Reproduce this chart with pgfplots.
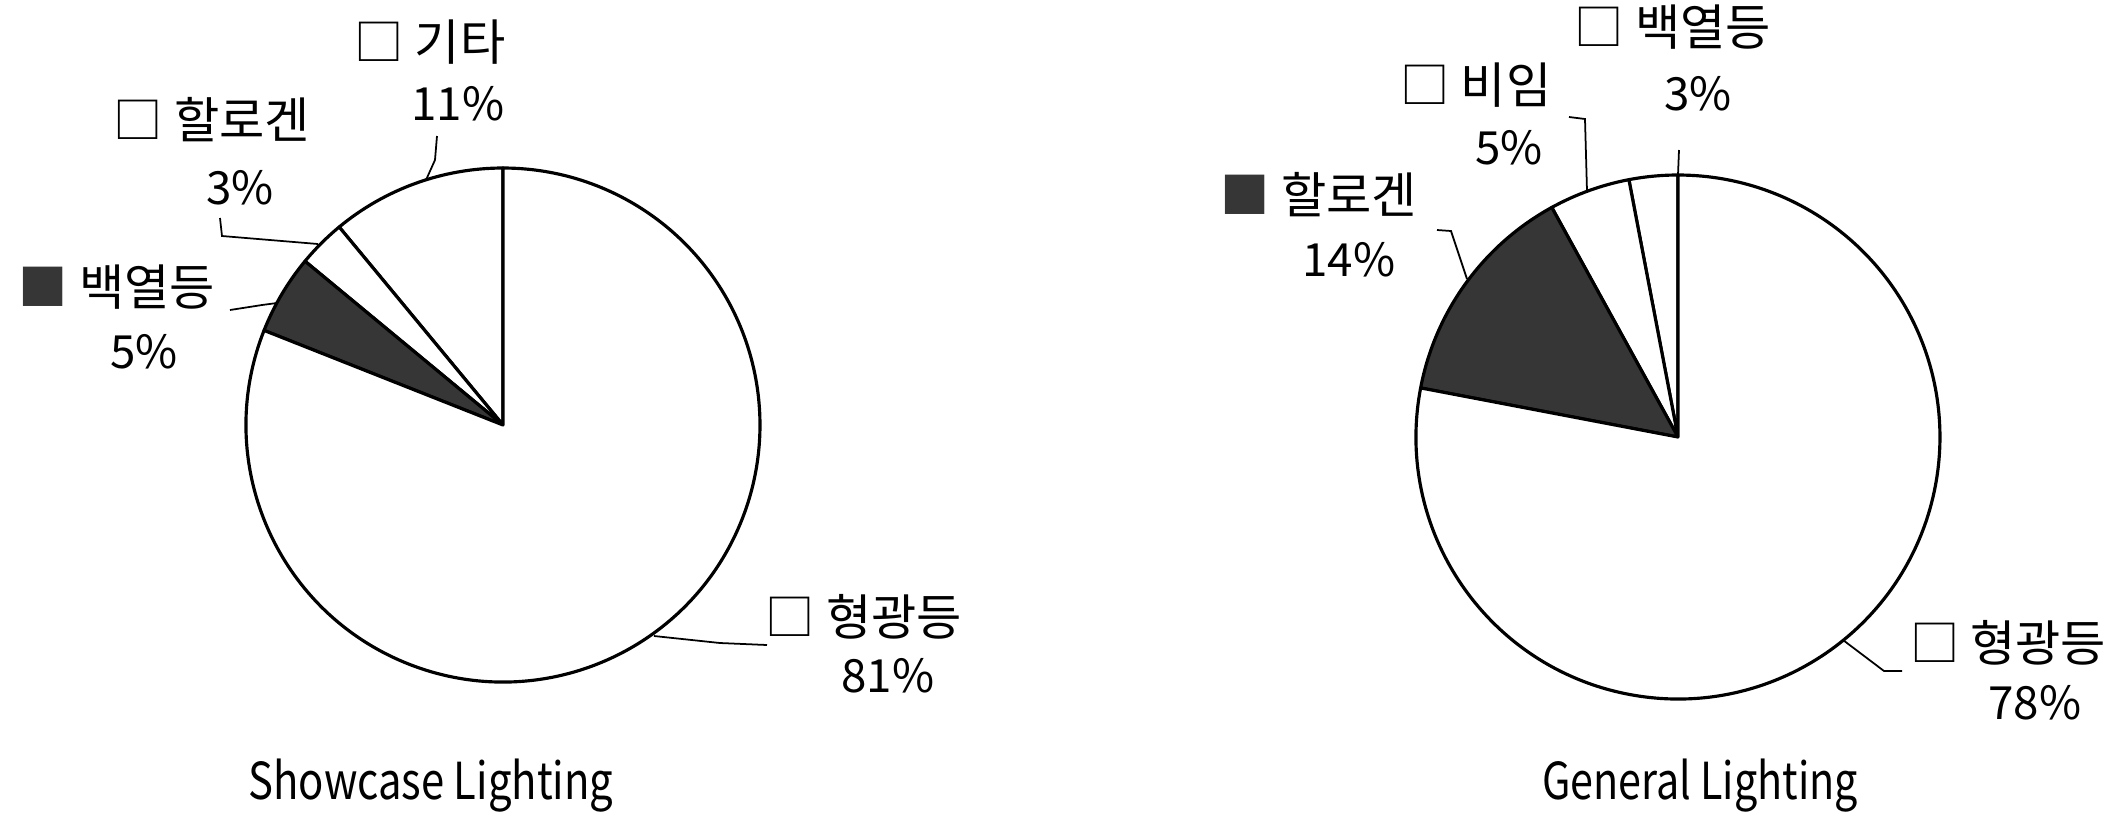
\documentclass[border=0pt]{standalone}
\usepackage{pgfplots}
\pgfplotsset{compat=1.18}
\usepackage{pgfplotstable}
\usepackage{graphicx}
\usepackage{fontspec}
\setmainfont{Noto Sans CJK KR}
\definecolor{darkfill}{HTML}{363636}

% shares in percent, read counter-clockwise from 12 o'clock; dark = 1 for the dark slice
\pgfplotstableread{
share dark
11 0
3 0
5 1
81 0
}\showcase
\pgfplotstableread{
share dark
3 0
5 0
14 1
78 0
}\general

% #1 radius, #2 cumulative start (%), #3 share (%), #4 fill colour
\newcommand{\slice}[4]{%
  \filldraw[fill=#4, draw=black, line width=0.9pt, line join=round]
    (axis cs:0,0) -- (axis cs:{cos(90+3.6*#2)},{sin(90+3.6*#2)})
    arc[start angle={90+3.6*#2}, end angle={90+3.6*(#2+#3)}, radius=#1] -- cycle;}

\newcommand{\pie}[2]{% #1 table, #2 radius
  \pgfplotstablegetrowsof{#1}\pgfmathtruncatemacro{\last}{\pgfplotsretval-1}%
  \def\cum{0}%
  \pgfplotsforeachungrouped \i in {0,...,\last}{%
    \pgfplotstablegetelem{\i}{share}\of#1\let\v\pgfplotsretval
    \pgfplotstablegetelem{\i}{dark}\of#1\let\d\pgfplotsretval
    \ifnum\d=1 \def\fc{darkfill}\else\def\fc{white}\fi
    \edef\temp{\noexpand\slice{#2}{\cum}{\v}{\fc}}%
    \temp
    \pgfmathsetmacro{\cum}{\cum+\v}%
  }}

\newcommand{\kr}{\fontsize{14}{16}\selectfont}
\newcommand{\pc}{\fontsize{13}{15}\selectfont}
\newcommand{\ttl}{\fontsize{14.5}{16}\selectfont}

\begin{document}
\begin{tikzpicture}
\begin{scope}[x=0.1mm,y=-0.1mm]
\path (0,0) rectangle (2113,824);
\end{scope}

\begin{axis}[at={(50.3mm,-42.5mm)}, anchor=center, hide axis,
  x=25.7mm, y=25.7mm, xmin=-1, xmax=1, ymin=-1, ymax=1, clip=false]
\pie{\showcase}{25.7mm}
\end{axis}

\begin{axis}[at={(167.8mm,-43.7mm)}, anchor=center, hide axis,
  x=26.2mm, y=26.2mm, xmin=-1, xmax=1, ymin=-1, ymax=1, clip=false]
\pie{\general}{26.2mm}
\end{axis}

\begin{scope}[x=0.1mm,y=-0.1mm, every node/.style={inner sep=0pt}]
% leader lines
\draw[line width=0.5pt] (437,136) -- (435,160) -- (426,180);
\draw[line width=0.5pt] (220,218) -- (222,236) -- (318,244);
\draw[line width=0.5pt] (230,310) -- (262,305) -- (277,303);
\draw[line width=0.5pt] (654,636) -- (720,643) -- (767,645);
\draw[line width=0.5pt] (1679,150) -- (1678,175);
\draw[line width=0.5pt] (1569,117) -- (1585,119) -- (1587,191);
\draw[line width=0.5pt] (1437,230) -- (1451,231) -- (1467,279);
\draw[line width=0.5pt] (1843,640) -- (1884,671) -- (1902,671);
% left labels
\node[font=\kr] at (430,42) {□ 기타};
\node[font=\pc] at (458,104) {11\%};
\node[font=\kr] at (212,120) {□ 할로겐};
\node[font=\pc] at (240,188) {3\%};
\node[font=\kr] at (117,287) {{\color{darkfill}■} 백열등};
\node[font=\pc] at (144,352) {5\%};
\node[font=\kr] at (864,617) {□ 형광등};
\node[font=\pc] at (888,676) {81\%};
\node[font=\ttl] at (431,786) {\scalebox{0.82}[1]{Showcase Lighting}};
% right labels
\node[font=\kr] at (1673,27) {□ 백열등};
\node[font=\pc] at (1698,94) {3\%};
\node[font=\kr] at (1476,85) {□ 비임};
\node[font=\pc] at (1509,148) {5\%};
\node[font=\kr] at (1319,195) {{\color{darkfill}■} 할로겐};
\node[font=\pc] at (1349,260) {14\%};
\node[font=\kr] at (2008,643) {□ 형광등};
\node[font=\pc] at (2035,703) {78\%};
\node[font=\ttl] at (1700,786) {\scalebox{0.81}[1]{General Lighting}};
\end{scope}
\end{tikzpicture}
\end{document}
